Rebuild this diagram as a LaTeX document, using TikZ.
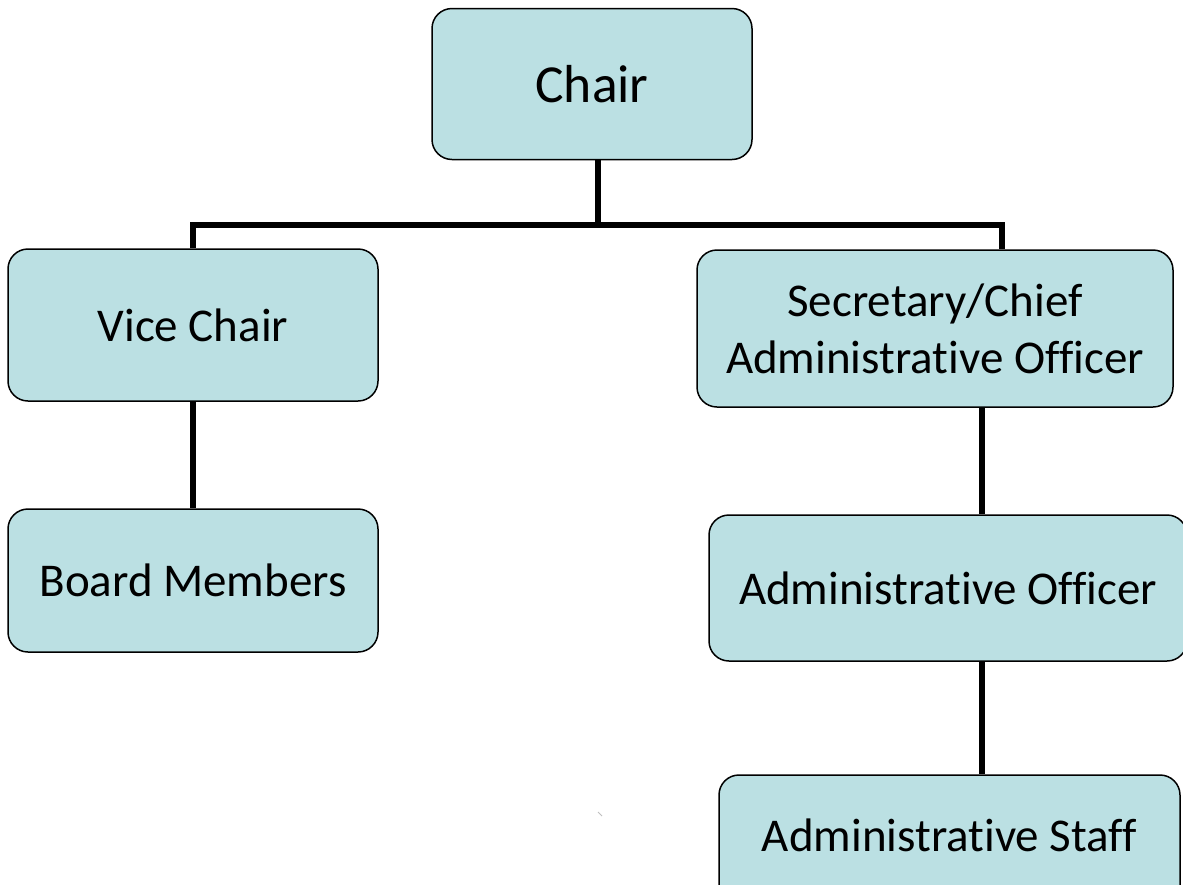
\documentclass[tikz,border=0pt]{standalone}
\usepackage{fontspec}
\setmainfont{Carlito}[Ligatures={NoCommon}]
\begin{document}
\begin{tikzpicture}[x=1pt,y=-1pt,
  box/.style={draw=black, line width=1.5pt, fill=boxfill, rounded corners=20pt, inner sep=0pt, align=center, font=\fontsize{47}{57}\selectfont},
  conn/.style={draw=black, line width=5.5pt}]
\definecolor{boxfill}{RGB}{187,224,227}
\useasboundingbox (0,0) rectangle (1183,884);
\node[box, minimum width=320pt, minimum height=151pt, font=\fontsize{53.5}{62}\selectfont] (chair) at (592,84) {Chair};
\node[box, minimum width=370pt, minimum height=152pt] (vice) at (193,325) {Vice Chair};
\node[box, minimum width=476pt, minimum height=157pt] (secr) at (935,328.5) {Secretary/Chief\\Administrative Officer};
\node[box, minimum width=370pt, minimum height=143pt] (board) at (193,580.5) {Board Members};
\node[box, minimum width=478pt, minimum height=146pt] (ao) at (948,588) {Administrative Officer};
\node[box, minimum width=461pt, minimum height=150pt] (staff) at (949.5,850) {\raisebox{30pt}{Administrative Staff}};
\coordinate (j) at (598,225);
\coordinate (sx) at (1002,0);
\coordinate (ax) at (982,0);
\draw[conn] (chair.south -| j) -- (j);
\draw[conn] (vice.north) -- (vice.north |- j) -- (sx |- j) -- (secr.north -| sx);
\draw[conn] (vice.south) -- (board.north);
\draw[conn] (secr.south -| ax) -- (ao.north -| ax);
\draw[conn] (ao.south -| ax) -- (staff.north -| ax);
\draw[gray!50, line width=1pt] (598,812) -- (602,816);
\end{tikzpicture}
\end{document}
